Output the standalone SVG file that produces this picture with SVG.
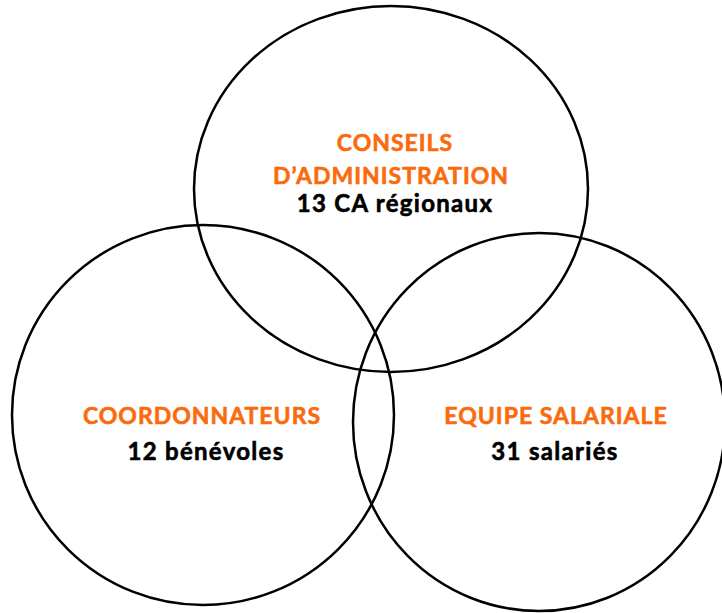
<svg xmlns="http://www.w3.org/2000/svg" width="722" height="613" viewBox="0 0 722 613">
<style>
.c{fill:none;stroke:#000;stroke-width:2.5}
.t{font-family:Lato,"Open Sans","Liberation Sans",sans-serif;font-weight:bold;text-anchor:middle;stroke-width:0.6px;stroke-linejoin:round}
.o{fill:#FA6B0E;stroke:#FA6B0E;font-size:23px;letter-spacing:1px}
.k{fill:#000;stroke:#000;font-size:24px;letter-spacing:1.3px}
</style>
<rect width="722" height="613" fill="#fff"/>
<g id="ca">
<ellipse class="c" cx="391" cy="189" rx="197" ry="183"/>
<text class="t o" x="395" y="151">CONSEILS</text>
<text class="t o" x="391" y="184">D’ADMINISTRATION</text>
<text class="t k" x="395" y="212">13 CA régionaux</text>
</g>
<g id="coord">
<ellipse class="c" cx="203" cy="415" rx="191" ry="190"/>
<text class="t o" x="202" y="424">COORDONNATEURS</text>
<text class="t k" x="206" y="460">12 bénévoles</text>
</g>
<g id="equipe">
<ellipse class="c" cx="539" cy="422" rx="186" ry="189"/>
<text class="t o" x="556" y="424">EQUIPE SALARIALE</text>
<text class="t k" x="555" y="460">31 salariés</text>
</g>
<g id="connectors"/>
</svg>
